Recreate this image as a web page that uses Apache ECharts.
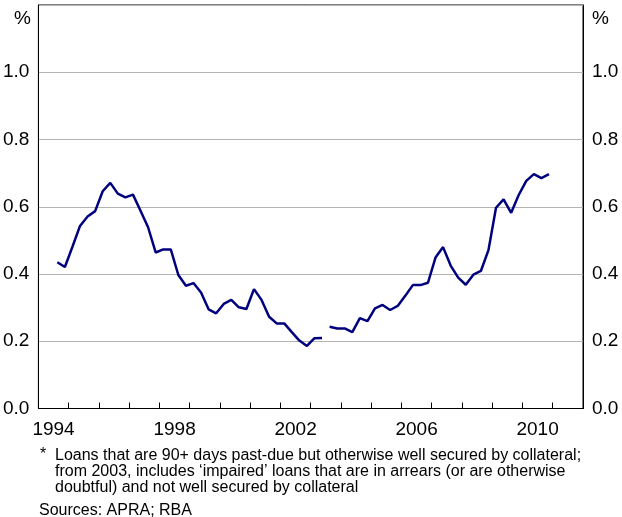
<!DOCTYPE html>
<html>
<head>
<meta charset="utf-8">
<script src="https://cdn.jsdelivr.net/npm/echarts@6/dist/echarts.min.js"></script>
<style>
  html, body { margin: 0; padding: 0; background: #fff; }
  #chart { width: 622px; height: 517px; }
</style>
</head>
<body>
<div id="chart"></div>
<script>
// ---- Data ----
const years = ['1994','1995','1996','1997','1998','1999','2000','2001','2002','2003',
               '2004','2005','2006','2007','2008','2009','2010','2011'];
const quarterNames = ['Q1','Q2','Q3','Q4'];
// Quarterly arrears rate, per cent — first series: Sep 1994 to Jun 2003
const seriesAStart = '1994 Q3';
const arrearsBefore2003 = [
  0.435, 0.421, 0.481, 0.543, 0.571, 0.587, 0.646, 0.671, 0.639, 0.628,
  0.636, 0.588, 0.539, 0.464, 0.473, 0.473, 0.397, 0.365, 0.373, 0.345,
  0.295, 0.283, 0.311, 0.323, 0.301, 0.296, 0.355, 0.323, 0.273, 0.253,
  0.253, 0.227, 0.202, 0.186, 0.209, 0.210
];
// Second series (includes impaired loans): Sep 2003 to Dec 2010
const seriesBStart = '2003 Q3';
const arrearsFrom2003 = [
  0.243, 0.238, 0.238, 0.227, 0.269, 0.260, 0.298, 0.308, 0.293, 0.305,
  0.335, 0.367, 0.367, 0.374, 0.449, 0.480, 0.425, 0.389, 0.368, 0.398,
  0.409, 0.471, 0.597, 0.622, 0.582, 0.635, 0.677, 0.697, 0.685, 0.697
];
const yTicks = [0, 0.2, 0.4, 0.6, 0.8, 1.0, 1.2];

const footnoteLines = [
  'Loans that are 90+ days past-due but otherwise well secured by collateral;',
  'from 2003, includes \u2018impaired\u2019 loans that are in arrears (or are otherwise',
  'doubtful) and not well secured by collateral'
];
const sourcesText = 'Sources: APRA; RBA';

// ---- Build quarterly categories and padded series ----
const quarters = [];
years.forEach(y => quarterNames.forEach(q => quarters.push(y + ' ' + q)));
function pad(startLabel, values) {
  const start = quarters.indexOf(startLabel);
  return quarters.map((_, i) => (i >= start && i < start + values.length) ? values[i - start] : null);
}
const dataA = pad(seriesAStart, arrearsBefore2003);
const dataB = pad(seriesBStart, arrearsFrom2003);

const FONT = '"Liberation Sans", Arial, sans-serif';
const chart = echarts.init(document.getElementById('chart'), null, { renderer: 'canvas' });

const yAxisCommon = {
  type: 'value',
  min: 0, max: 1.2, interval: 0.2,
  axisLine: { show: true, lineStyle: { color: '#000', width: 1 } },
  axisTick: { show: false },
  splitLine: { show: true, lineStyle: { color: '#b4b4b4', width: 1 } },
  axisLabel: {
    color: '#000', fontSize: 19, fontFamily: FONT, margin: 9,
    formatter: v => (Math.abs(v - 1.2) < 1e-6 ? '' : v.toFixed(1))
  }
};

const lineStyle = { color: '#00007f', width: 2.5 };

chart.setOption({
  animation: false,
  backgroundColor: '#fff',
  grid: {
    left: 37, right: 39, top: 5, bottom: 108.5,
    show: true, borderColor: '#000', borderWidth: 1, backgroundColor: 'transparent'
  },
  xAxis: [
    {
      type: 'category', data: years, boundaryGap: true,
      axisLine: { show: true, lineStyle: { color: '#000', width: 1 } },
      axisTick: { show: true, inside: true, length: 6, interval: 0, alignWithLabel: false, lineStyle: { color: '#000' } },
      axisLabel: { interval: 3, color: '#000', fontSize: 19, fontFamily: FONT, margin: 12 },
      splitLine: { show: false }
    },
    {
      type: 'category', data: quarters, boundaryGap: true, show: false,
      axisLine: { show: false }, axisTick: { show: false }, axisLabel: { show: false }, splitLine: { show: false }
    }
  ],
  yAxis: [
    Object.assign({ position: 'left' }, yAxisCommon),
    Object.assign({ position: 'right' }, yAxisCommon)
  ],
  series: [
    { type: 'line', xAxisIndex: 1, yAxisIndex: 0, data: dataA, showSymbol: false, connectNulls: false, lineStyle: lineStyle, itemStyle: { color: lineStyle.color } },
    { type: 'line', xAxisIndex: 1, yAxisIndex: 0, data: dataB, showSymbol: false, connectNulls: false, lineStyle: lineStyle, itemStyle: { color: lineStyle.color } }
  ],
  graphic: [
    { type: 'text', right: 622 - 31, top: 9, style: { text: '%', fontSize: 19, fontFamily: FONT, fill: '#000' } },
    { type: 'text', left: 592, top: 9, style: { text: '%', fontSize: 19, fontFamily: FONT, fill: '#000' } },
    { type: 'text', left: 40, top: 447, style: { text: '*', fontSize: 16, fontFamily: FONT, fill: '#000' } },
    { type: 'text', left: 55, top: 448, style: { text: footnoteLines.join('\n'), fontSize: 16, lineHeight: 15.8, fontFamily: FONT, fill: '#000' } },
    { type: 'text', left: 39, top: 503, style: { text: sourcesText, fontSize: 16, fontFamily: FONT, fill: '#000' } }
  ]
});
</script>
</body>
</html>
